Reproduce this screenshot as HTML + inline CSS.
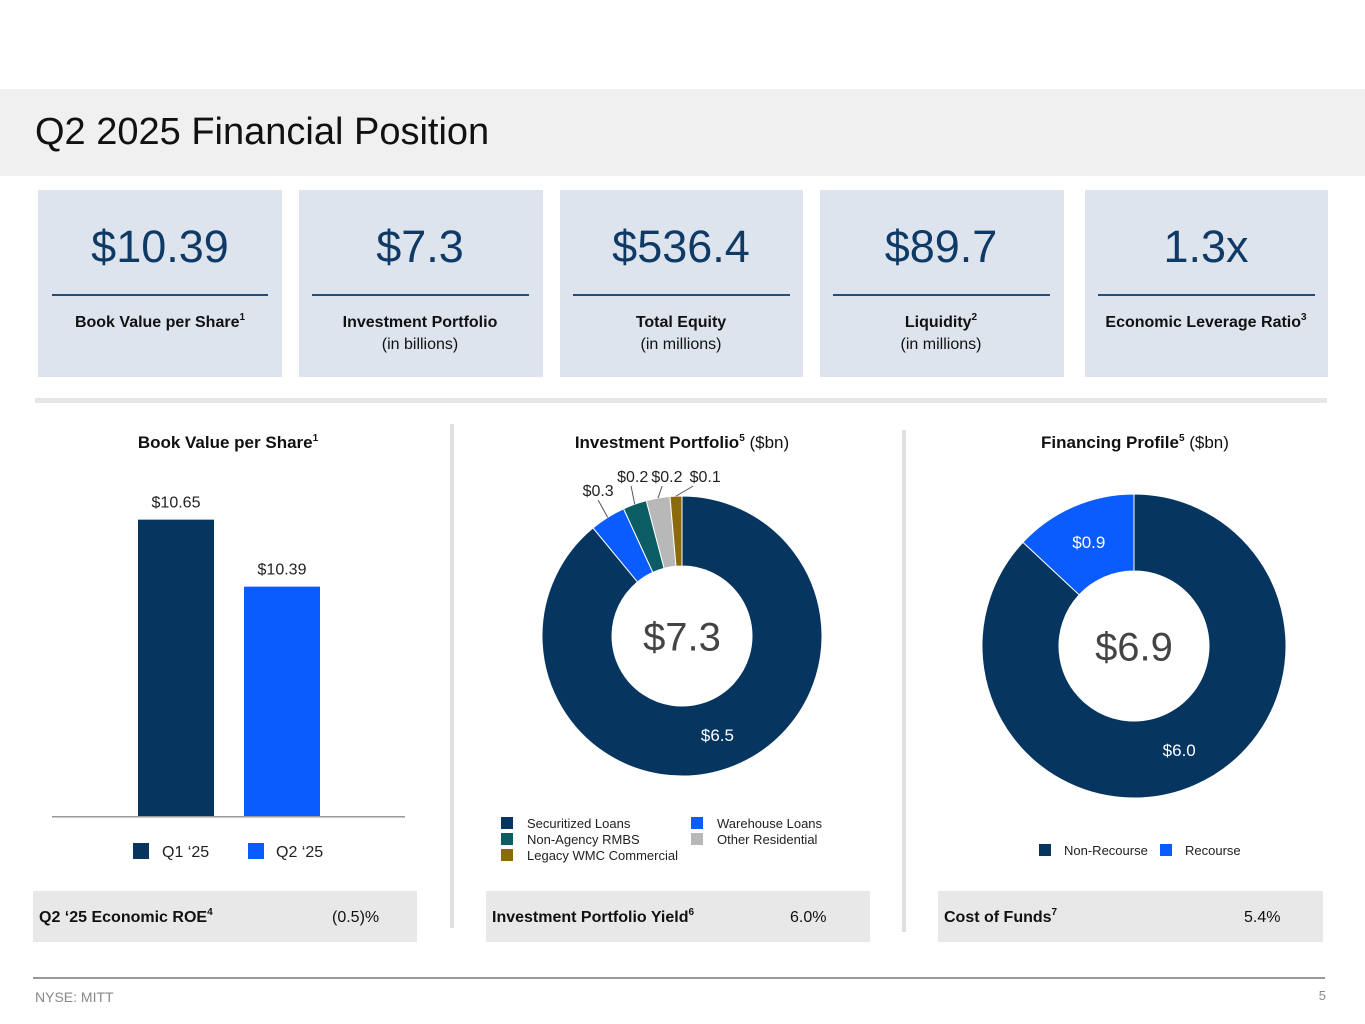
<!DOCTYPE html>
<html><head><meta charset="utf-8"><style>
html,body{margin:0;padding:0;background:#fff;}
svg{display:block;font-family:"Liberation Sans",sans-serif;}
.b{font-weight:bold;}
</style></head><body>
<svg id="s" width="1365" height="1024" viewBox="0 0 1365 1024" xmlns="http://www.w3.org/2000/svg">
<rect x="0" y="89" width="1365" height="87" fill="#f0f0f0"/>
<text x="35" y="144" font-size="38" fill="#111">Q2 2025 Financial Position</text>

<g>
<rect x="38" y="190" width="244" height="187" fill="#dde4ee"/>
<text x="160" y="262" font-size="45" fill="#0f3a66" text-anchor="middle">$10.39</text>
<rect x="52" y="294" width="216" height="2" fill="#1f4e80"/>
<text x="160" y="327" font-size="16" class="b" fill="#111" text-anchor="middle">Book Value per Share<tspan font-size="10" dy="-7">1</tspan></text>
</g>
<g>
<rect x="299" y="190" width="244" height="187" fill="#dde4ee"/>
<text x="420" y="262" font-size="45" fill="#0f3a66" text-anchor="middle">$7.3</text>
<rect x="312" y="294" width="217" height="2" fill="#1f4e80"/>
<text x="420" y="327" font-size="16" class="b" fill="#111" text-anchor="middle">Investment Portfolio</text>
<text x="420" y="349" font-size="16" fill="#111" text-anchor="middle">(in billions)</text>
</g>
<g>
<rect x="560" y="190" width="243" height="187" fill="#dde4ee"/>
<text x="681" y="262" font-size="45" fill="#0f3a66" text-anchor="middle">$536.4</text>
<rect x="573" y="294" width="217" height="2" fill="#1f4e80"/>
<text x="681" y="327" font-size="16" class="b" fill="#111" text-anchor="middle">Total Equity</text>
<text x="681" y="349" font-size="16" fill="#111" text-anchor="middle">(in millions)</text>
</g>
<g>
<rect x="820" y="190" width="244" height="187" fill="#dde4ee"/>
<text x="941" y="262" font-size="45" fill="#0f3a66" text-anchor="middle">$89.7</text>
<rect x="833" y="294" width="217" height="2" fill="#1f4e80"/>
<text x="941" y="327" font-size="16" class="b" fill="#111" text-anchor="middle">Liquidity<tspan font-size="10" dy="-7">2</tspan></text>
<text x="941" y="349" font-size="16" fill="#111" text-anchor="middle">(in millions)</text>
</g>
<g>
<rect x="1085" y="190" width="243" height="187" fill="#dde4ee"/>
<text x="1206" y="262" font-size="45" fill="#0f3a66" text-anchor="middle">1.3x</text>
<rect x="1098" y="294" width="217" height="2" fill="#1f4e80"/>
<text x="1206" y="327" font-size="16" class="b" fill="#111" text-anchor="middle">Economic Leverage Ratio<tspan font-size="10" dy="-7">3</tspan></text>
</g>

<rect x="35" y="398" width="1292" height="5" fill="#e6e6e6"/>
<rect x="450" y="424" width="4" height="504" fill="#e0e0e0"/>
<rect x="902" y="430" width="4" height="502" fill="#e0e0e0"/>

<text x="228" y="448" font-size="17" class="b" fill="#111" text-anchor="middle">Book Value per Share<tspan font-size="10" dy="-7">1</tspan></text>
<text x="682" y="448" font-size="17" fill="#111" text-anchor="middle"><tspan class="b">Investment Portfolio</tspan><tspan font-size="10" dy="-7" class="b">5</tspan><tspan dy="7"> ($bn)</tspan></text>
<text x="1135" y="448" font-size="17" fill="#111" text-anchor="middle"><tspan class="b">Financing Profile</tspan><tspan font-size="10" dy="-7" class="b">5</tspan><tspan dy="7"> ($bn)</tspan></text>

<g id="bars"></g>
<g id="pie1"></g>
<g id="pie2"></g>

<g font-size="13" fill="#222">
<rect x="501" y="817" width="12" height="12" fill="#063560"/><text x="527" y="828">Securitized Loans</text>
<rect x="501" y="833" width="12" height="12" fill="#0b5c63"/><text x="527" y="844">Non-Agency RMBS</text>
<rect x="501" y="849" width="12" height="12" fill="#8a6a0a"/><text x="527" y="860">Legacy WMC Commercial</text>
<rect x="691" y="817" width="12" height="12" fill="#0a5cff"/><text x="717" y="828">Warehouse Loans</text>
<rect x="691" y="833" width="12" height="12" fill="#b8b8b8"/><text x="717" y="844">Other Residential</text>
</g>
<g font-size="13" fill="#222">
<rect x="1039" y="844" width="12" height="12" fill="#063560"/><text x="1064" y="855">Non-Recourse</text>
<rect x="1160" y="844" width="12" height="12" fill="#0a5cff"/><text x="1185" y="855">Recourse</text>
</g>
<g font-size="16" fill="#222">
<rect x="133" y="843" width="16" height="16" fill="#063560"/><text x="162" y="857">Q1 ‘25</text>
<rect x="248" y="843" width="16" height="16" fill="#0a5cff"/><text x="276" y="857">Q2 ‘25</text>
</g>

<g>
<rect x="33" y="891" width="384" height="51" fill="#e8e8e8"/>
<text x="39" y="922" font-size="16" class="b" fill="#111">Q2 ‘25 Economic ROE<tspan font-size="10" dy="-7">4</tspan></text>
<text x="332" y="922" font-size="16" fill="#111">(0.5)%</text>
</g>
<g>
<rect x="486" y="891" width="384" height="51" fill="#e8e8e8"/>
<text x="492" y="922" font-size="16" class="b" fill="#111">Investment Portfolio Yield<tspan font-size="10" dy="-7">6</tspan></text>
<text x="790" y="922" font-size="16" fill="#111">6.0%</text>
</g>
<g>
<rect x="938" y="891" width="385" height="51" fill="#e8e8e8"/>
<text x="944" y="922" font-size="16" class="b" fill="#111">Cost of Funds<tspan font-size="10" dy="-7">7</tspan></text>
<text x="1244" y="922" font-size="16" fill="#111">5.4%</text>
</g>

<rect x="33" y="977" width="1292" height="2" fill="#999"/>
<text x="35" y="1002" font-size="14" fill="#888">NYSE: MITT</text>
<text x="1326" y="1000" font-size="13" fill="#888" text-anchor="end">5</text>
</svg>
<script>
const barCategories = ["Q1 ‘25","Q2 ‘25"];
const barValues = [10.65, 10.39];
const barLabels = ["$10.65","$10.39"];
const pie1Categories = ["Securitized Loans","Warehouse Loans","Non-Agency RMBS","Other Residential","Legacy WMC Commercial"];
const pie1Values = [6.5, 0.3, 0.2, 0.2, 0.1];
const pie1Labels = ["$6.5","$0.3","$0.2","$0.2","$0.1"];
const pie1Total = "$7.3";
const pie2Categories = ["Non-Recourse","Recourse"];
const pie2Values = [6.0, 0.9];
const pie2Labels = ["$6.0","$0.9"];
const pie2Total = "$6.9";

const NS = "http://www.w3.org/2000/svg";
function mk(tag, attrs, parent){const e=document.createElementNS(NS,tag);for(const k in attrs)e.setAttribute(k,attrs[k]);parent.appendChild(e);return e;}

const barG = document.getElementById('bars');
const yMin = 9.5, pxPerUnit = 257.7, base = 816;
const y = v => base - (v - yMin) * pxPerUnit;
const barColors = ["#063560","#0a5cff"];
const x = i => 138 + i * 106;
barValues.forEach((v,i)=>{
  const r = mk('rect',{x:x(i),y:y(v),width:76,height:base-y(v),fill:barColors[i]},barG);
  
  
  const t = mk('text',{x:x(i)+38,y:y(v)-12,'font-size':16,fill:'#222','text-anchor':'middle'},barG);
  t.textContent = barLabels[i];
  
  
});
const ax = mk('rect',{x:52,y:base,width:353,height:1.5,fill:'#999'},barG);



function donut(g, vals, cols, cx, cy, ro, ri, labels, total, totalSize, labelMode){
  const sum = vals.reduce((a,b)=>a+b,0);
  let a0 = 0, k = 0;
  const pt=(a,r)=>[cx+r*Math.sin(a),cy-r*Math.cos(a)];
  vals.forEach((v,i)=>{
    const a1 = a0 + v/sum*2*Math.PI;
    const large = (a1-a0)>Math.PI?1:0;
    const [x0,y0]=pt(a0,ro),[x1,y1]=pt(a1,ro),[x2,y2]=pt(a1,ri),[x3,y3]=pt(a0,ri);
    const p = mk('path',{d:`M${x0},${y0} A${ro},${ro} 0 ${large} 1 ${x1},${y1} L${x2},${y2} A${ri},${ri} 0 ${large} 0 ${x3},${y3} Z`,fill:cols[i],stroke:'#fff','stroke-width':1},g);
    
    
    const am = (a0+a1)/2;
    const frac = v/sum;
    if (labelMode==='outside' && frac<0.1){
      const [ex,ey]=pt(am,ro);
      const [lx,ly]=pt(am,ro+18);
      const shift = [0,4,12,30][k] || 0;
      k++;
      const ty = Math.max(ly-6, 482);
      const ln = mk('line',{x1:ex,y1:ey,x2:lx+shift*0.6,y2:ty+4,stroke:'#555','stroke-width':1},g);
      
      
      const t = mk('text',{x:lx+shift,y:ty,'font-size':16,fill:'#222','text-anchor':'middle'},g);
      t.textContent = labels[i];
      
      
    } else {
      const rm=(ro+ri)/2;
      const [lx,ly]=pt(am,rm);
      const t = mk('text',{x:lx,y:ly+6,'font-size':17,fill:'#fff','text-anchor':'middle'},g);
      t.textContent = labels[i];
      
      
    }
    a0 = a1;
  });
  const tt = mk('text',{x:cx,y:cy+totalSize*0.36,'font-size':totalSize,fill:'#444','text-anchor':'middle'},g);
  tt.textContent = total;
  
  
}
donut(document.getElementById('pie1'), pie1Values, ["#063560","#0a5cff","#0b5c63","#b8b8b8","#8a6a0a"], 682, 636, 140, 70, pie1Labels, pie1Total, 40, 'outside');
donut(document.getElementById('pie2'), pie2Values, ["#063560","#0a5cff"], 1134, 646, 152, 75, pie2Labels, pie2Total, 40, 'inside');
</script>
</body></html>
